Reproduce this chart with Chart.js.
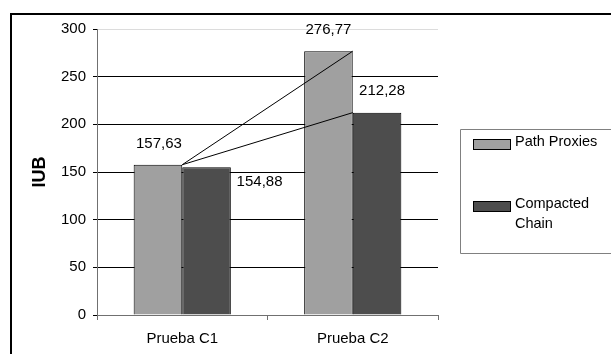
<!DOCTYPE html>
<html>
<head>
<meta charset="utf-8">
<script src="https://cdn.jsdelivr.net/npm/chart.js@4/dist/chart.umd.min.js"></script>
<style>
  html, body { margin: 0; padding: 0; background: #ffffff; }
  #wrap { width: 611px; height: 354px; position: relative; }
</style>
</head>
<body>
<div id="wrap"><canvas id="c" width="611" height="354"></canvas></div>
<script>
// Test cases and IUB results per method
const categories = ['Prueba C1', 'Prueba C2'];
const pathProxies = [157.63, 276.77];
const compactedChain = [154.88, 212.28];
const yTicks = [0, 50, 100, 150, 200, 250, 300];
const seriesNames = ['Path Proxies', 'Compacted Chain'];
const axisTitle = 'IUB';

// Connecting lines from the C1 Path Proxies value to each C2 value
const lineToProxies = [pathProxies[0], pathProxies[1]];
const lineToChain = [pathProxies[0], compactedChain[1]];

const FONT = '"Liberation Sans", Arial, sans-serif';

// Comma decimal formatting (es)
function fmt(v) { return v.toFixed(2).replace('.', ','); }

// Per-bar label placement relative to the bar's top centre
const labelPlacement = [
  [{ dx: 1, dy: -21 }, { dx: 0, dy: -21 }],
  [{ dx: 53, dy: 15 }, { dx: 5, dy: -22 }]
];

const valueLabels = {
  id: 'valueLabels',
  afterDatasetsDraw(chart) {
    const ctx = chart.ctx;
    ctx.save();
    ctx.font = '15px ' + FONT;
    ctx.fillStyle = '#000';
    ctx.textAlign = 'center';
    ctx.textBaseline = 'middle';
    let barIdx = 0;
    chart.data.datasets.forEach((ds, di) => {
      if (ds.type === 'line') return;
      const meta = chart.getDatasetMeta(di);
      meta.data.forEach((el, i) => {
        const p = labelPlacement[barIdx][i];
        ctx.fillText(fmt(ds.data[i]), el.x + p.dx, el.y + p.dy);
      });
      barIdx++;
    });
    ctx.restore();
  }
};

// Framed legend with wrapped entries, plus the outer frame
const sideLegend = {
  id: 'sideLegend',
  afterDraw(chart) {
    const ctx = chart.ctx;
    ctx.save();
    // outer frame
    ctx.strokeStyle = '#000';
    ctx.lineWidth = 2;
    ctx.beginPath();
    ctx.moveTo(11, 400);
    ctx.lineTo(11, 14);
    ctx.lineTo(640, 14);
    ctx.stroke();

    // legend box
    ctx.strokeStyle = '#808080';
    ctx.lineWidth = 1;
    ctx.beginPath();
    ctx.moveTo(640, 129.5);
    ctx.lineTo(460.5, 129.5);
    ctx.lineTo(460.5, 253.5);
    ctx.lineTo(640, 253.5);
    ctx.stroke();

    ctx.font = '14.5px ' + FONT;
    ctx.textBaseline = 'middle';
    ctx.textAlign = 'left';
    const items = chart.data.datasets.filter(d => d.type !== 'line');
    const rowTops = [139.5, 201.5];
    items.forEach((ds, k) => {
      const y = rowTops[k];
      ctx.fillStyle = ds.backgroundColor;
      ctx.fillRect(473.5, y, 37, 10);
      ctx.strokeStyle = '#000';
      ctx.strokeRect(473.5, y, 37, 10);
      // wrap words into lines that fit
      const words = ds.label.split(' ');
      const lines = [];
      let cur = '';
      words.forEach(w => {
        const t = cur ? cur + ' ' + w : w;
        if (ctx.measureText(t).width > 88 && cur) { lines.push(cur); cur = w; }
        else cur = t;
      });
      lines.push(cur);
      ctx.fillStyle = '#000';
      lines.forEach((ln, j) => ctx.fillText(ln, 515, y + 2 + j * 20));
    });
    ctx.restore();
  }
};

new Chart(document.getElementById('c'), {
  type: 'bar',
  data: {
    labels: categories,
    datasets: [
      {
        type: 'line', label: 'C1-C2 Path Proxies', data: lineToProxies,
        borderColor: '#000', borderWidth: 1, pointRadius: 0, fill: false, order: 0
      },
      {
        type: 'line', label: 'C1-C2 Compacted Chain', data: lineToChain,
        borderColor: '#000', borderWidth: 1, pointRadius: 0, fill: false, order: 0
      },
      {
        label: seriesNames[0], data: pathProxies,
        backgroundColor: '#a0a0a0', borderColor: '#000', borderWidth: 1,
        barPercentage: 1, categoryPercentage: 0.57, order: 1
      },
      {
        label: seriesNames[1], data: compactedChain,
        backgroundColor: '#4d4d4d', borderColor: '#000', borderWidth: 1,
        barPercentage: 1, categoryPercentage: 0.57, order: 1
      }
    ]
  },
  options: {
    responsive: false,
    animation: false,
    devicePixelRatio: 1,
    layout: { padding: { left: 0, right: 173, top: 29, bottom: 0 } },
    plugins: {
      legend: { display: false },
      tooltip: { enabled: false }
    },
    scales: {
      x: {
        offset: true,
        grid: {
          offset: true, drawOnChartArea: false, drawTicks: true,
          tickLength: 5, tickColor: '#707070'
        },
        border: { color: '#707070', width: 1 },
        ticks: { color: '#000', font: { family: FONT, size: 15 }, padding: 10 },
        afterFit(s) { s.height = 39; }
      },
      y: {
        min: 0, max: 300,
        afterBuildTicks(s) { s.ticks = yTicks.map(v => ({ value: v })); },
        grid: {
          color: c => (c.tick && c.tick.value === 300) ? '#dcdcdc' : '#000',
          tickColor: '#000', tickLength: 4, lineWidth: 1
        },
        border: { color: '#707070', width: 1 },
        ticks: { color: '#000', font: { family: FONT, size: 15 }, padding: 7 },
        title: {
          display: true, text: axisTitle, color: '#000',
          font: { family: FONT, size: 18, weight: 'bold' },
          padding: { top: 29, bottom: 0 }
        },
        afterFit(s) { s.width = 97; }
      }
    }
  },
  plugins: [valueLabels, sideLegend]
});
</script>
</body>
</html>
